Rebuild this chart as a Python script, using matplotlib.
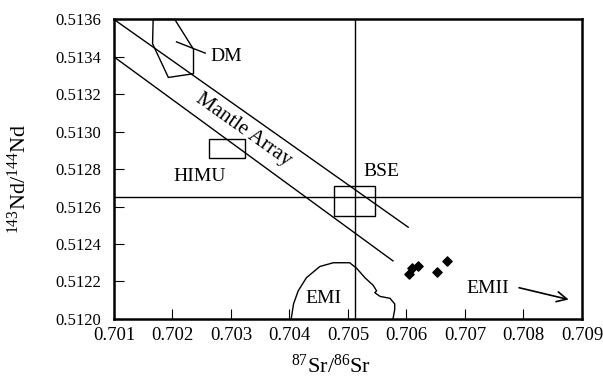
import matplotlib
matplotlib.use("Agg")
import matplotlib.pyplot as plt
from matplotlib.patches import Polygon, Rectangle

plt.rcParams['font.family'] = 'serif'
plt.rcParams['font.serif'] = ['Liberation Serif', 'DejaVu Serif']

# axis ticks
xticks = [0.701, 0.702, 0.703, 0.704, 0.705, 0.706, 0.707, 0.708, 0.709]
yticks = [0.5120, 0.5122, 0.5124, 0.5126, 0.5128, 0.5130, 0.5132, 0.5134, 0.5136]

# sample points
sr = [0.70605, 0.70609, 0.70619, 0.70653, 0.70669]
nd = [0.51224, 0.51227, 0.51228, 0.51225, 0.51231]

# BSE reference lines
bse_sr = 0.70512
bse_nd = 0.51265

# mantle array boundaries
array_upper_x = [0.701, 0.70603]
array_upper_y = [0.5136, 0.51249]
array_lower_x = [0.701, 0.70577]
array_lower_y = [0.5134, 0.51231]

# DM field
dm_x = [0.70167, 0.70204, 0.70236, 0.70236, 0.70193, 0.70166]
dm_y = [0.5136, 0.5136, 0.51344, 0.51331, 0.51329, 0.51347]
dm_leader_x = [0.70207, 0.70256]
dm_leader_y = [0.51348, 0.51342]

# HIMU box (x0, y0, x1, y1)
himu_box = [0.70263, 0.51286, 0.70324, 0.51296]
# BSE box
bse_box = [0.70477, 0.51255, 0.70546, 0.51271]

# EMI field outline
emi_x = [0.70403, 0.70407, 0.70415, 0.70429, 0.70452, 0.70475, 0.70503,
         0.70515, 0.70529, 0.70543, 0.70549, 0.70546, 0.70555, 0.70572,
         0.70580, 0.70580, 0.70577]
emi_y = [0.51200, 0.51208, 0.51215, 0.51222, 0.51228, 0.51230, 0.51230,
         0.51227, 0.51222, 0.51218, 0.51215, 0.51214, 0.51212, 0.51211,
         0.51208, 0.51205, 0.51200]

# EMII arrow
emii_start = (0.70788, 0.51217)
emii_end = (0.70882, 0.51210)

fig = plt.figure(figsize=(6.03, 3.81), dpi=100)
ax = fig.add_axes([0.189, 0.163, 0.776, 0.786])

lw = 1.0
ax.axvline(bse_sr, color='black', lw=lw)
ax.axhline(bse_nd, color='black', lw=lw)
ax.plot(array_upper_x, array_upper_y, color='black', lw=lw)
ax.plot(array_lower_x, array_lower_y, color='black', lw=lw)

ax.add_patch(Polygon(list(zip(dm_x, dm_y)), closed=True, fill=False,
                     ec='black', lw=lw, clip_on=False))
ax.plot(dm_leader_x, dm_leader_y, color='black', lw=lw)

for b in (himu_box, bse_box):
    ax.add_patch(Rectangle((b[0], b[1]), b[2] - b[0], b[3] - b[1],
                           fill=False, ec='black', lw=lw))

ax.plot(emi_x, emi_y, color='black', lw=lw)
ax.scatter(sr, nd, marker='D', s=22, color='black', zorder=3)

ax.annotate('', xy=emii_end, xytext=emii_start,
            arrowprops=dict(arrowstyle='->', color='black', lw=1.2,
                            mutation_scale=18))

fs = 14
ax.text(0.70264, 0.51340, 'DM', fontsize=fs, va='center', ha='left')
ax.text(0.70247, 0.51276, 'HIMU', fontsize=fs, va='center', ha='center')
ax.text(0.70526, 0.51279, 'BSE', fontsize=fs, va='center', ha='left')
ax.text(0.70458, 0.51211, 'EMI', fontsize=fs, va='center', ha='center')
ax.text(0.70703, 0.51216, 'EMII', fontsize=fs, va='center', ha='left')
ax.text(0.70322, 0.51301, 'Mantle Array', fontsize=15, va='center',
        ha='center', rotation=-35.3, rotation_mode='anchor')

ax.set_xlim(0.701, 0.709)
ax.set_ylim(0.5120, 0.5136)
ax.set_xticks(xticks)
ax.set_yticks(yticks)
ax.set_xticklabels(['%.3f' % v for v in xticks], fontsize=13.5,
                   family='serif')
ax.set_yticklabels(['%.4f' % v for v in yticks], fontsize=12,
                   family='serif')
ax.tick_params(direction='in', length=7, width=0.8, top=False, right=False,
               pad=6)
ax.tick_params(axis='y', pad=9)

for s in ax.spines.values():
    s.set_linewidth(1.8)

ax.set_xlabel(r'$\mathregular{^{87}}$Sr/$\mathregular{^{86}}$Sr', fontsize=16)
ax.xaxis.set_label_coords(0.464, -0.12)
ax.set_ylabel(r'$\mathregular{^{143}}$Nd/$\mathregular{^{144}}$Nd',
              fontsize=16)
ax.yaxis.set_label_coords(-0.178, 0.467)

fig.savefig('out.png', dpi=100)
